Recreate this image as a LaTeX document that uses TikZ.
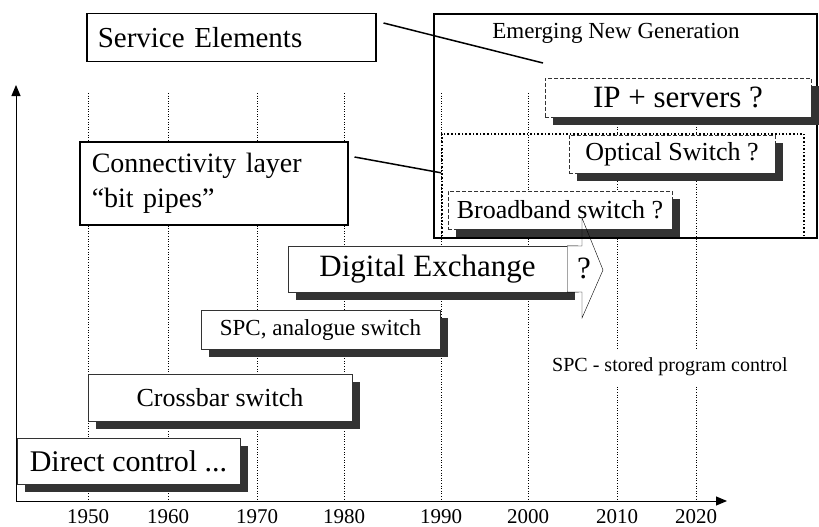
\documentclass[tikz,border=0pt]{standalone}
\usepackage{fontspec}
\setmainfont{Liberation Serif}
\usetikzlibrary{positioning,shadows,arrows.meta}
\newcommand{\tsize}[1]{\fontsize{#1}{#1}\selectfont}

\begin{document}
\begin{tikzpicture}[x=1pt,y=-1pt,
  era/.style={draw=black!80,fill=white,inner sep=0pt,
    drop shadow={shadow xshift=8pt,shadow yshift=-8pt,fill=black!80,opacity=1}},
  maybe/.style={era,dash pattern=on 4pt off 2pt},
  layer/.style={draw,line width=1.5pt,fill=white,align=left,anchor=north west,inner ysep=0pt},
  yeargrid/.style={dotted,line width=.6pt},
  link/.style={line width=1.5pt}]
\useasboundingbox (0,0) rectangle (819,527);

% years
\foreach \yr/\x in {1950/88,1960/168,1970/257,1980/344,1990/441,2000/528,2010/617,2020/696} {
  \draw[yeargrid] (\x,93) -- (\x,501);
  \node (y\yr) [font=\tsize{21}] at (\x,517) {\yr};
}

% axes
\coordinate (origin) at (16,501);
\coordinate (ytop) at (16,85);
\coordinate (xend) at (727,501);
\draw[line width=1pt,-{Triangle[length=11pt,width=9pt]}] (origin) -- (ytop);
\draw[line width=1pt,-{Triangle[length=11pt,width=9pt]}] (origin) -- (xend);

% new generation
\node (emerging) [draw,line width=1.8pt,minimum width=383pt,minimum height=224pt,anchor=north west,inner sep=0pt] at (433,13) {};
\node (emergingtitle) [font=\tsize{23}] at (616,33) {Emerging New Generation};
\node (pipes) [draw,dotted,line width=1.6pt,minimum width=362pt,minimum height=104pt,anchor=north west,inner sep=0pt] at (441,133) {};

\node (ip) [maybe,minimum width=266pt,minimum height=39pt,font=\tsize{31}] at (678,97.5) {IP + servers ?};
\node (optical) [maybe,minimum width=206pt,minimum height=38pt,font=\tsize{26}] at (672,154) {Optical Switch ?};
\node (broadband) [maybe,minimum width=224pt,minimum height=38pt,font=\tsize{26}] at (560,210) {Broadband switch ?};

% eras
\node (direct) [era,minimum width=223pt,minimum height=46pt,font=\tsize{30}] at (128.5,461) {Direct control ...};
\node (crossbar) [era,minimum width=264pt,minimum height=47pt,font=\tsize{26}] at (220,397.5) {Crossbar switch};
\node (analogue) [era,minimum width=239pt,minimum height=39pt,font=\tsize{23}] at (320.5,329.5) {SPC, analogue switch};
\node (digital) [era,minimum width=279pt,minimum height=46pt,font=\tsize{31}] at (427.5,269) {Digital Exchange};

\fill[white] (digital.north east) rectangle (582,292);
\draw (digital.north east) -- (582,246) -- (582,218) -- (603,270)
  -- (582,318) -- (582,292) -- (digital.south east) -- cycle;
\node (unknown) [font=\tsize{31}] at (584,268) {?};

\node (spcnote) [fill=white,inner ysep=9pt,font=\tsize{20}] at (670,367) {SPC - stored program control};

% layers
\node (service) [layer,inner xsep=11pt,text width=267pt,minimum height=48pt,font=\tsize{29}] at (86,13) {Service Elements};
\node (connect) [layer,inner xsep=12pt,text width=244pt,minimum height=83pt,font=\fontsize{28}{35}\selectfont] at (79,141) {Connectivity layer\\“bit pipes”};

\coordinate (ipcorner) at (543,63);
\draw[link] ([shift={(7,10)}]service.north east) -- (ipcorner);
\draw[link] ([shift={(6,16)}]connect.north east) -- ([yshift=13pt]pipes.west);
\end{tikzpicture}
\end{document}
